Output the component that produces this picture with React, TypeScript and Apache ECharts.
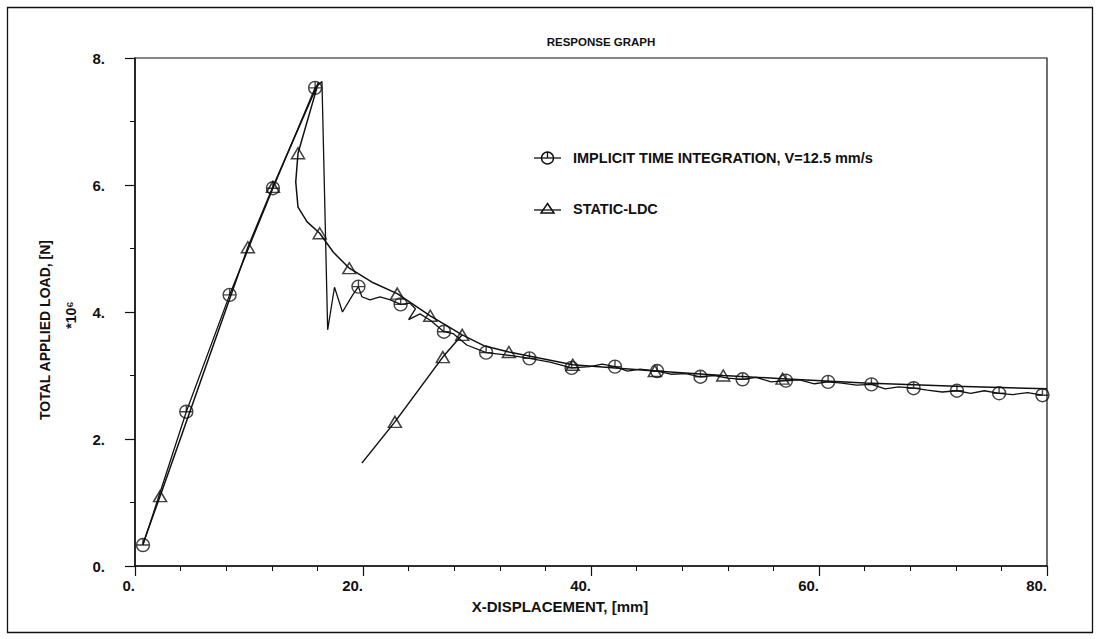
import React, { useEffect, useRef } from "react";
import * as echarts from "echarts";

// ---- data ----
const X_MIN = 0;
const X_MAX = 80;
const X_STEP = 20;
const Y_MIN = 0;
const Y_MAX = 8;
const Y_STEP = 2;

const TITLE = "RESPONSE GRAPH";
const X_NAME = "X-DISPLACEMENT, [mm]";
const Y_NAME = "TOTAL APPLIED LOAD, [N]";
const Y_SCALE = "*10⁶";
const IMPLICIT_NAME = "IMPLICIT TIME INTEGRATION, V=12.5 mm/s";
const STATIC_NAME = "STATIC-LDC";

const implicitCurve: [number, number][] = [
  [0.7, 0.33], [4.5, 2.43], [8.3, 4.27], [12.1, 5.95], [15.8, 7.53], [16.4, 7.63],
  [16.9, 3.72], [17.5, 4.39], [18.2, 4.0], [19.1, 4.27], [19.6, 4.4], [19.9, 4.24],
  [20.6, 4.19], [21.5, 4.24], [22.4, 4.19], [23.3, 4.12], [24.1, 4.14], [24.6, 4.05],
  [24.0, 3.88], [25.0, 3.97], [25.9, 3.87], [27.1, 3.69], [27.9, 3.66], [29.1, 3.48],
  [30.8, 3.36], [32.3, 3.33], [33.5, 3.3], [34.6, 3.27], [36.4, 3.21], [38.3, 3.12],
  [39.9, 3.14], [41.0, 3.18], [42.1, 3.14], [43.2, 3.07], [44.3, 3.1], [45.8, 3.07],
  [47.0, 3.02], [48.3, 3.03], [49.6, 2.98], [50.8, 3.0], [52.0, 2.96], [53.3, 2.94],
  [54.5, 2.97], [55.8, 2.9], [57.1, 2.92], [58.3, 2.93], [59.6, 2.87], [60.8, 2.9],
  [62.0, 2.88], [63.3, 2.85], [64.6, 2.86], [65.8, 2.79], [67.0, 2.82], [68.3, 2.8],
  [69.5, 2.77], [70.8, 2.74], [72.1, 2.76], [73.3, 2.72], [74.5, 2.76], [75.8, 2.72],
  [77.0, 2.7], [78.3, 2.73], [79.6, 2.69],
];

const implicitMarks: [number, number][] = [
  [0.7, 0.33], [4.5, 2.43], [8.3, 4.27], [12.1, 5.95], [15.8, 7.53], [19.6, 4.4],
  [23.3, 4.12], [27.1, 3.69], [30.8, 3.36], [34.6, 3.27], [38.3, 3.12], [42.1, 3.14],
  [45.8, 3.07], [49.6, 2.98], [53.3, 2.94], [57.1, 2.92], [60.8, 2.9], [64.6, 2.86],
  [68.3, 2.8], [72.1, 2.76], [75.8, 2.72], [79.6, 2.69],
];

const staticCurve: [number, number][] = [
  [0.7, 0.35], [2.2, 1.1], [9.9, 5.02], [12.1, 5.97], [16.1, 7.62], [14.3, 6.5],
  [14.1, 6.05], [14.3, 5.65], [15.1, 5.42], [16.2, 5.24], [17.4, 4.94], [18.8, 4.69],
  [20.9, 4.46], [23.0, 4.29], [25.9, 3.94], [28.7, 3.64], [30.6, 3.47], [32.8, 3.37],
  [38.4, 3.17], [45.6, 3.07], [51.6, 3.0], [56.8, 2.95], [64.0, 2.88], [72.0, 2.83],
  [80.0, 2.79],
];

const staticBranch: [number, number][] = [
  [28.7, 3.64], [27.0, 3.29], [22.8, 2.27], [19.9, 1.62],
];

const staticMarks: [number, number][] = [
  [2.2, 1.1], [9.9, 5.02], [12.1, 5.97], [14.3, 6.5], [16.2, 5.24], [18.8, 4.69],
  [23.0, 4.29], [25.9, 3.94], [28.7, 3.64], [27.0, 3.29], [22.8, 2.27], [32.8, 3.37],
  [38.4, 3.17], [45.6, 3.07], [51.6, 3.0], [56.8, 2.95],
];

// ---- styling ----
const FONT = '"Liberation Sans", Arial, Helvetica, sans-serif';
const INK = "#111";
const CIRCLE_SYMBOL =
  "path://M1,11 A10,10 0 1,1 21,11 A10,10 0 1,1 1,11 Z M1,11 L21,11 M11,1 L11,11";

export default function App() {
  const ref = useRef<HTMLDivElement>(null);

  useEffect(() => {
    if (!ref.current) return;
    const chart = echarts.init(ref.current, undefined, { renderer: "svg" });

    const labelStyle = {
      color: INK,
      fontFamily: FONT,
      fontWeight: "bold" as const,
      fontSize: 15,
    };

    const option: any = {
      animation: false,
      backgroundColor: "#fff",
      grid: {
        left: 135,
        top: 58,
        right: 51,
        bottom: 73,
        show: true,
        borderColor: INK,
        borderWidth: 1.2,
        backgroundColor: "transparent",
      },
      xAxis: {
        type: "value",
        min: X_MIN,
        max: X_MAX,
        interval: X_STEP,
        axisLine: { show: true, onZero: false, lineStyle: { color: INK, width: 1.5 } },
        axisTick: { show: true, inside: false, length: 10, lineStyle: { color: INK, width: 1.2 } },
        minorTick: { show: true, splitNumber: 5, length: 5, lineStyle: { color: INK, width: 1 } },
        splitLine: { show: false },
        axisLabel: {
          ...labelStyle,
          margin: 12,
          align: "right",
          formatter: (v: number) => `${v}.`,
        },
      },
      yAxis: {
        type: "value",
        min: Y_MIN,
        max: Y_MAX,
        interval: Y_STEP,
        axisLine: { show: true, onZero: false, lineStyle: { color: INK, width: 1.5 } },
        axisTick: { show: true, inside: false, length: 10, lineStyle: { color: INK, width: 1.2 } },
        minorTick: { show: true, splitNumber: 2, length: 5, lineStyle: { color: INK, width: 1 } },
        splitLine: { show: false },
        axisLabel: {
          ...labelStyle,
          margin: 30,
          formatter: (v: number) => `${v}.`,
        },
      },
      series: [
        {
          name: IMPLICIT_NAME,
          type: "line",
          data: implicitCurve,
          showSymbol: false,
          symbol: "none",
          lineStyle: { color: INK, width: 1.3 },
          z: 3,
        },
        {
          name: IMPLICIT_NAME,
          type: "scatter",
          data: implicitMarks,
          symbol: CIRCLE_SYMBOL,
          symbolSize: 13,
          itemStyle: { color: "rgba(0,0,0,0)", borderColor: INK, borderWidth: 1.4 },
          z: 4,
        },
        {
          name: STATIC_NAME,
          type: "line",
          data: staticCurve,
          showSymbol: false,
          symbol: "none",
          lineStyle: { color: INK, width: 1.5 },
          z: 3,
        },
        {
          name: STATIC_NAME,
          type: "line",
          data: staticBranch,
          showSymbol: false,
          symbol: "none",
          lineStyle: { color: INK, width: 1.5 },
          z: 3,
        },
        {
          name: STATIC_NAME,
          type: "scatter",
          data: staticMarks,
          symbol: "triangle",
          symbolSize: [13, 11],
          itemStyle: { color: "rgba(0,0,0,0)", borderColor: INK, borderWidth: 1.5 },
          z: 4,
        },
      ],
      graphic: [
        {
          type: "rect",
          shape: { x: 7.5, y: 7.5, width: 1085, height: 625 },
          style: { fill: "none", stroke: INK, lineWidth: 1.3 },
          silent: true,
        },
        {
          type: "text",
          x: 601,
          y: 42,
          style: {
            text: TITLE,
            align: "center",
            verticalAlign: "middle",
            fill: INK,
            font: `bold 11.5px ${FONT}`,
          },
        },
        {
          type: "text",
          x: 560,
          y: 606,
          style: {
            text: X_NAME,
            align: "center",
            verticalAlign: "middle",
            fill: INK,
            font: `bold 15px ${FONT}`,
          },
        },
        {
          type: "text",
          x: 45,
          y: 330,
          rotation: Math.PI / 2,
          style: {
            text: Y_NAME,
            align: "center",
            verticalAlign: "middle",
            fill: INK,
            font: `bold 14px ${FONT}`,
          },
        },
        {
          type: "text",
          x: 71,
          y: 315,
          rotation: Math.PI / 2,
          style: {
            text: Y_SCALE,
            align: "center",
            verticalAlign: "middle",
            fill: INK,
            font: `bold 14px ${FONT}`,
          },
        },
        // legend: implicit
        {
          type: "line",
          shape: { x1: 534, y1: 158, x2: 561, y2: 158 },
          style: { stroke: INK, lineWidth: 1.3 },
        },
        {
          type: "circle",
          shape: { cx: 547.5, cy: 158, r: 6 },
          style: { fill: "none", stroke: INK, lineWidth: 1.4 },
        },
        {
          type: "line",
          shape: { x1: 547.5, y1: 152, x2: 547.5, y2: 158 },
          style: { stroke: INK, lineWidth: 1.3 },
        },
        {
          type: "text",
          x: 573,
          y: 158,
          style: {
            text: IMPLICIT_NAME,
            align: "left",
            verticalAlign: "middle",
            fill: INK,
            font: `bold 14.5px ${FONT}`,
          },
        },
        // legend: static
        {
          type: "line",
          shape: { x1: 534, y1: 210, x2: 561, y2: 210 },
          style: { stroke: INK, lineWidth: 1.3 },
        },
        {
          type: "polygon",
          shape: { points: [[547.5, 203.5], [554, 213], [541, 213]] },
          style: { fill: "none", stroke: INK, lineWidth: 1.5 },
        },
        {
          type: "text",
          x: 573,
          y: 209,
          style: {
            text: STATIC_NAME,
            align: "left",
            verticalAlign: "middle",
            fill: INK,
            font: `bold 14.5px ${FONT}`,
          },
        },
      ],
    };

    chart.setOption(option);
    return () => chart.dispose();
  }, []);

  return (
    <div
      ref={ref}
      style={{ position: "absolute", left: 0, top: 0, width: 1098, height: 639, background: "#fff" }}
    />
  );
}
